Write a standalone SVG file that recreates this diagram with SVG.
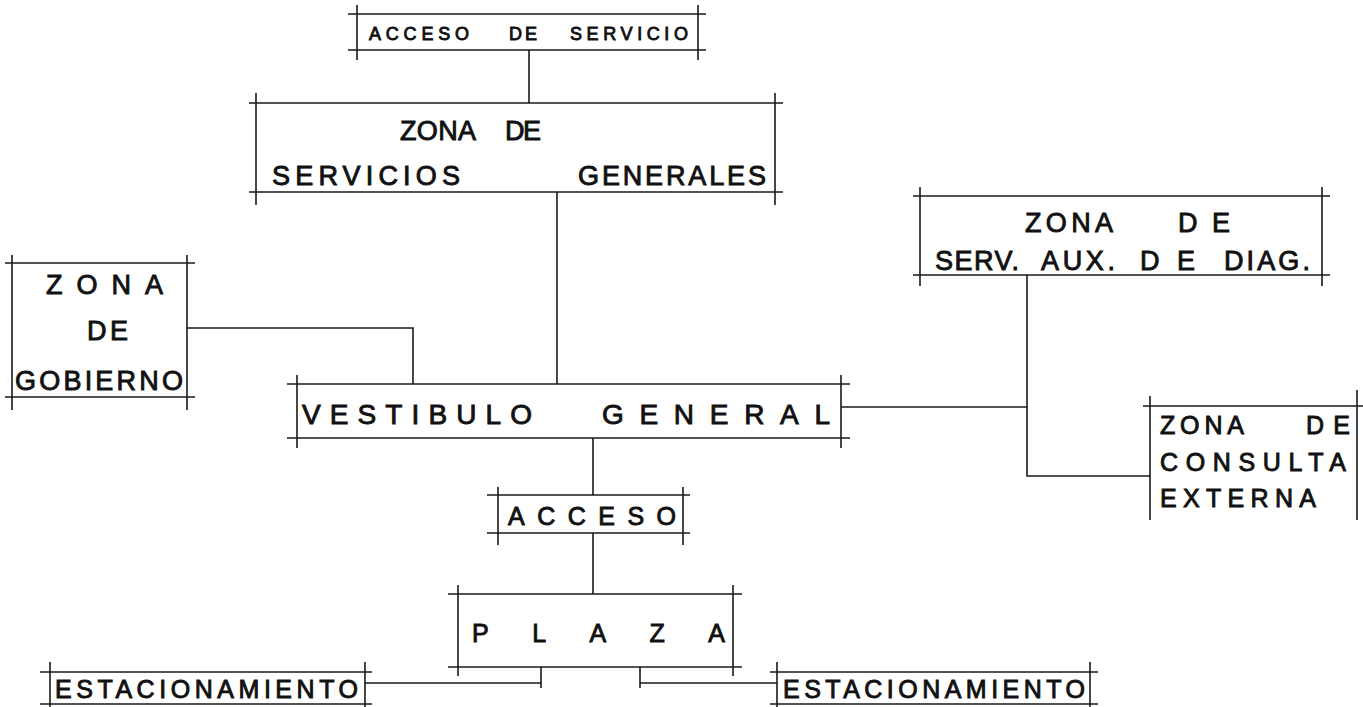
<svg xmlns="http://www.w3.org/2000/svg" width="1363" height="707" viewBox="0 0 1363 707">
<style>
.bg{fill:#fff}
.ln{stroke:#1a1a1a;stroke-width:1.6;fill:none;stroke-linecap:butt}
.t{font-family:"Liberation Sans","DejaVu Sans",Arial,sans-serif;fill:#111;stroke:#111;stroke-width:0.9}
.s18{font-size:18px}
.s25{font-size:25px}
.s27{font-size:27px}
.s28{font-size:28px}
.s30{font-size:30px}
</style>
<rect class="bg" x="0" y="0" width="1363" height="707"/>

<g id="connectors" class="ln">
  <path d="M529 50 V103"/>
  <path d="M557 192 V384"/>
  <path d="M187 328 H413 V384"/>
  <path d="M841 407 H1027"/>
  <path d="M1027 275 V476 H1150"/>
  <path d="M593 438 V495"/>
  <path d="M593 533 V594"/>
  <path d="M541 667 V688 M541 683 H365"/>
  <path d="M640 667 V688 M640 683 H777"/>
</g>

<g id="acceso-servicio">
  <path class="ln" d="M348 14 H706 M348 50 H706 M357 5 V60 M698 5 V60"/>
  <text class="t s18" x="369" y="40" textLength="100" lengthAdjust="spacing">ACCESO</text>
  <text class="t s18" x="509" y="40" textLength="28" lengthAdjust="spacing">DE</text>
  <text class="t s18" x="570" y="40" textLength="118" lengthAdjust="spacing">SERVICIO</text>
</g>

<g id="servicios-generales">
  <path class="ln" d="M249 103 H783 M249 192 H783 M256 93 V205 M775 93 V205"/>
  <text class="t s27" x="400" y="140" textLength="76" lengthAdjust="spacing">ZONA</text>
  <text class="t s27" x="505" y="140" textLength="36" lengthAdjust="spacing">DE</text>
  <text class="t s27" x="272" y="185" textLength="188" lengthAdjust="spacing">SERVICIOS</text>
  <text class="t s27" x="578" y="185" textLength="188" lengthAdjust="spacing">GENERALES</text>
</g>

<g id="zona-gobierno">
  <path class="ln" d="M5 263 H195 M5 397 H195 M12 255 V410 M187 255 V410"/>
  <text class="t s27" x="46" y="294" textLength="117" lengthAdjust="spacing">ZONA</text>
  <text class="t s27" x="87" y="340" textLength="41" lengthAdjust="spacing">DE</text>
  <text class="t s27" x="15" y="390" textLength="168" lengthAdjust="spacing">GOBIERNO</text>
</g>

<g id="vestibulo-general">
  <path class="ln" d="M287 384 H850 M287 438 H850 M297 375 V448 M841 375 V448"/>
  <text class="t s28" x="302" y="424" textLength="230" lengthAdjust="spacing">VESTIBULO</text>
  <text class="t s28" x="602" y="424" textLength="228" lengthAdjust="spacing">GENERAL</text>
</g>

<g id="serv-aux-diag">
  <path class="ln" d="M913 196 H1330 M913 275 H1330 M920 187 V286 M1322 187 V286"/>
  <text class="t s27" x="1025" y="232" textLength="88" lengthAdjust="spacing">ZONA</text>
  <text class="t s27" x="1178" y="232" textLength="52" lengthAdjust="spacing">DE</text>
  <text class="t s27" x="935" y="270" textLength="84" lengthAdjust="spacing">SERV.</text>
  <text class="t s27" x="1041" y="270" textLength="74" lengthAdjust="spacing">AUX.</text>
  <text class="t s27" x="1140" y="270" textLength="55" lengthAdjust="spacing">DE</text>
  <text class="t s27" x="1224" y="270" textLength="86" lengthAdjust="spacing">DIAG.</text>
</g>

<g id="consulta-externa">
  <path class="ln" d="M1143 406 H1363 M1150 396 V520 M1357 390 V520"/>
  <text class="t s25" x="1160" y="434" textLength="84" lengthAdjust="spacing">ZONA</text>
  <text class="t s25" x="1306" y="434" textLength="44" lengthAdjust="spacing">DE</text>
  <text class="t s25" x="1160" y="471" textLength="186" lengthAdjust="spacing">CONSULTA</text>
  <text class="t s25" x="1160" y="507" textLength="156" lengthAdjust="spacing">EXTERNA</text>
</g>

<g id="acceso">
  <path class="ln" d="M487 495 H690 M487 533 H690 M498 487 V545 M683 487 V545"/>
  <text class="t s25" x="508" y="525" textLength="168" lengthAdjust="spacing">ACCESO</text>
</g>

<g id="plaza">
  <path class="ln" d="M448 594 H742 M448 667 H742 M458 585 V676 M733 585 V676"/>
  <text class="t s25" x="472" y="642" textLength="253" lengthAdjust="spacing">PLAZA</text>
</g>

<g id="estacionamiento-izq">
  <path class="ln" d="M40 672 H372 M40 704 H372 M50 662 V707 M365 662 V707"/>
  <text class="t s25" x="55" y="698" textLength="303" lengthAdjust="spacing">ESTACIONAMIENTO</text>
</g>

<g id="estacionamiento-der">
  <path class="ln" d="M770 672 H1098 M770 704 H1098 M777 662 V707 M1090 662 V707"/>
  <text class="t s25" x="783" y="698" textLength="302" lengthAdjust="spacing">ESTACIONAMIENTO</text>
</g>
</svg>
